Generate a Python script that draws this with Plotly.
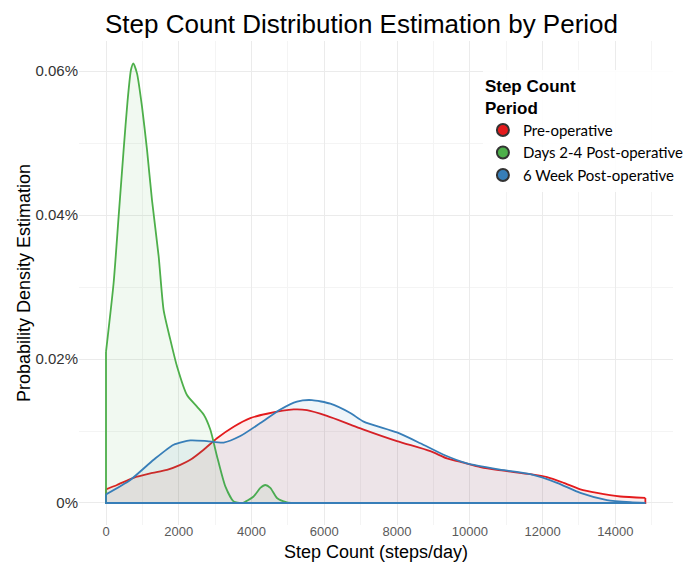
import numpy as np
import plotly.graph_objects as go

# ---- data (density values given in percent units) ----
pre_steps = [0, 302, 760, 1218, 1677, 2043, 2318, 2684, 3051, 3509, 3967, 4425, 5158, 5524, 6074,
             6716, 7082, 7998, 8915, 9372, 9831, 10290, 10747, 11663, 12122, 12580, 13038, 13497, 14138, 14825]
pre_pct = [0.0019, 0.0025, 0.0035, 0.0041, 0.0046, 0.0053, 0.0060, 0.0074, 0.0090, 0.0106, 0.0118, 0.0124, 0.0130, 0.0129, 0.0121,
           0.0109, 0.0102, 0.0086, 0.0072, 0.0062, 0.0056, 0.0050, 0.0046, 0.0040, 0.0036, 0.0028, 0.0019, 0.0014, 0.0009, 0.0007]

early_steps = [0, 210, 347, 485, 595, 687, 751, 852, 989, 1127, 1264, 1447, 1584, 1768, 1951, 2226, 2501, 2684,
               2867, 3051, 3280, 3509, 3737, 4058, 4242, 4379, 4517, 4699, 4974, 5158]
early_pct = [0.0210, 0.0306, 0.0398, 0.0491, 0.0560, 0.0602, 0.0611, 0.0597, 0.0551, 0.0491, 0.0421, 0.0343, 0.0268, 0.0227, 0.0190, 0.0150, 0.0134, 0.0123,
             0.0102, 0.0065, 0.0023, 0.0002, 0.0000, 0.0009, 0.0021, 0.0025, 0.0021, 0.0007, 0.0001, 0.0000]

wk6_steps = [0, 668, 1309, 1859, 2318, 2776, 3234, 3692, 4242, 4792, 5249, 5662, 6166, 6716, 7082, 7998, 8640,
             9281, 9922, 10747, 11663, 12397, 13038, 13771, 14412, 14825]
wk6_pct = [0.0012, 0.0032, 0.0060, 0.0081, 0.0087, 0.0086, 0.0084, 0.0093, 0.0111, 0.0130, 0.0141, 0.0143, 0.0138, 0.0125, 0.0113, 0.0098, 0.0083,
           0.0067, 0.0055, 0.0047, 0.0040, 0.0028, 0.0014, 0.0004, 0.0001, 0.0000]

series_names = ["Pre-operative", "Days 2-4 Post-operative", "6 Week Post-operative"]
y_tick_vals = [0, 0.0002, 0.0004, 0.0006]
y_tick_text = ["0%", "0.02%", "0.04%", "0.06%"]
x_tick_vals = [0, 2000, 4000, 6000, 8000, 10000, 12000, 14000]
x_tick_text = ["0", "2000", "4000", "6000", "8000", "10000", "12000", "14000"]

colors = ["#E41A1C", "#4DAF4A", "#377EB8"]
fills = ["rgba(228,26,28,0.08)", "rgba(77,175,74,0.08)", "rgba(55,126,184,0.08)"]

series = [(pre_steps, pre_pct), (early_steps, early_pct), (wk6_steps, wk6_pct)]

fig = go.Figure()
for (xs, pct), name, col, fc in zip(series, series_names, colors, fills):
    ys = np.array(pct) / 100.0
    fig.add_trace(go.Scatter(x=xs, y=ys, mode="lines", line=dict(color=col, width=1.8, shape="spline", smoothing=0.6),
                             fill="tozeroy", fillcolor=fc, showlegend=False, hoverinfo="skip"))
    fig.add_trace(go.Scatter(x=[xs[0], xs[0], xs[-1], xs[-1]], y=[ys[0], 0, 0, ys[-1]], mode="lines",
                             line=dict(color=col, width=1.8), showlegend=False, hoverinfo="skip"))

for name, col in zip(series_names, colors):
    fig.add_trace(go.Scatter(x=[None], y=[None], mode="markers", name=name,
                             marker=dict(symbol="circle", size=13, color=col, line=dict(color="#333333", width=1))))

fig.update_layout(
    width=686, height=562,
    margin=dict(l=79, r=13, t=41, b=37, autoexpand=False),
    paper_bgcolor="white", plot_bgcolor="white",
    title=dict(text="Step Count Distribution Estimation by Period", x=0.527, xref="container", xanchor="center",
               y=1 - 24 / 562, yref="container", yanchor="middle",
               font=dict(family="Liberation Sans, Arial", size=26, color="black")),
    legend=dict(x=0.680, y=0.941, xanchor="left", yanchor="top", bgcolor="rgba(255,255,255,0.9)",
                title=dict(text="<b>Step Count<br>Period</b>", font=dict(family="Liberation Sans, Arial", size=17, color="black")),
                font=dict(family="Lato, Noto Sans", size=15, color="black"),
                itemsizing="constant", tracegroupgap=0),
    font=dict(family="Liberation Sans, Arial"),
    annotations=[dict(text="Step Count (steps/day)", xref="paper", yref="paper", x=0.5, y=-27 / 484,
                      xanchor="center", yanchor="middle", showarrow=False,
                      font=dict(family="Liberation Sans, Arial", size=18, color="black"))],
)
fig.update_xaxes(range=[-742, 15585], tickvals=x_tick_vals, ticktext=x_tick_text, showgrid=True,
                 gridcolor="#ebebeb", gridwidth=1, automargin=False,
                 minor=dict(dtick=1000, tick0=0, showgrid=True, gridcolor="#f4f4f4", gridwidth=1),
                 zeroline=False, showline=False, ticks="", ticklabelstandoff=-3,
                 tickfont=dict(size=13, color="#5a5a5a"))
fig.update_yaxes(range=[-0.0000306, 0.000642], tickvals=y_tick_vals, ticktext=y_tick_text, showgrid=True,
                 gridcolor="#ebebeb", gridwidth=1, automargin=False,
                 minor=dict(tickvals=[0.0001, 0.0003, 0.0005], showgrid=True, gridcolor="#f4f4f4", gridwidth=1),
                 zeroline=False, showline=False, ticklabelstandoff=0,
                 tickfont=dict(size=15, color="#333333"),
                 title=dict(text="Probability Density Estimation", font=dict(size=18, color="black"), standoff=0))

fig.write_html("out.html", config={"displayModeBar": False},
               post_script="document.body.style.margin='0';")
